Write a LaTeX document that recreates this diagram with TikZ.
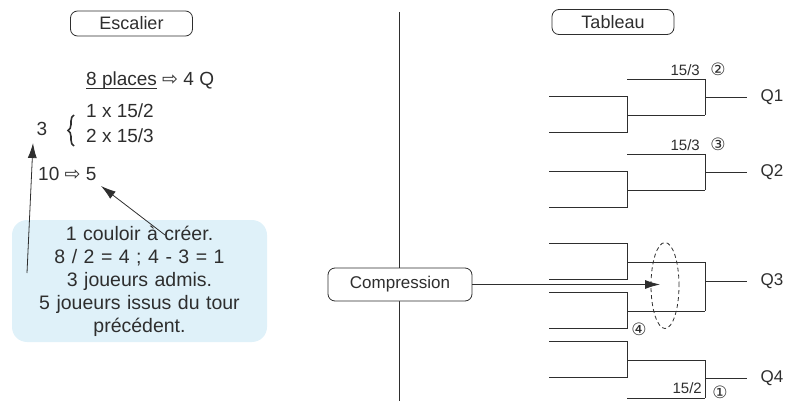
\documentclass[tikz,border=0pt]{standalone}
\usepackage{fontspec}
\setmainfont{Liberation Sans}
\newfontfamily\symbfont{DejaVu Sans}
\usepackage{xcolor}
\usepackage{tikz}
\usetikzlibrary{shapes.geometric, arrows.meta, positioning, decorations.pathreplacing}

\definecolor{notebg}{HTML}{DFF1F9}
\definecolor{ink}{HTML}{2E2E2E}
\newcommand\ulined[1]{\setbox0=\hbox{#1}\rlap{\rule[-2.5pt]{\wd0}{0.7pt}}\box0\relax}

\begin{document}
\begin{tikzpicture}[
    x=1pt, y=-1pt,
    every node/.style={text=ink},
    title/.style={rectangle, draw=ink, line width=0.8pt, rounded corners=7pt, minimum width=122pt, minimum height=25pt, inner sep=0pt, font=\fontsize{18}{21}\selectfont},
    note/.style={rectangle, fill=notebg, rounded corners=15pt, minimum width=255pt, minimum height=122pt, text width=250pt, align=center, inner sep=0pt, font=\fontsize{19.5}{23}\selectfont},
    txt/.style={inner sep=0pt, font=\fontsize{19}{23}\selectfont},
    small/.style={inner sep=0pt, font=\fontsize{15}{17}\selectfont},
    circnum/.style={inner sep=0pt, font=\fontsize{17}{19}\selectfont},
    qlabel/.style={inner sep=0pt, font=\fontsize{17}{19}\selectfont},
    wire/.style={draw=ink, line width=0.8pt},
    arrow/.style={draw=ink, line width=0.8pt, -{Latex[length=15pt, width=9pt]}}
]
    \useasboundingbox (0,0) rectangle (801,401);

    % left half: escalier
    \node (escalier) [title] at (131.5,23.5) {Escalier};
    \node (places) [txt, anchor=base west] at (86,86) {\ulined{8 places} {\symbfont ⇨} 4 Q};
    \node (three) [txt, anchor=base] at (42,136) {3};
    \coordinate (bracebot) at (74,146);
    \coordinate (bracetop) at (74,115);
    \draw [draw=ink, line width=1.6pt, decorate, decoration={brace, amplitude=6pt}] (bracebot) -- (bracetop);
    \node (row1) [txt, anchor=base west] at (86,118) {1 x 15/2};
    \node (row2) [txt, anchor=base west] at (86,143) {2 x 15/3};
    \node (ten) [txt, anchor=base west] at (38,181) {10 {\symbfont ⇨} 5};
    \node (note) [note] at (139.5,281) {1 couloir à créer.\\ 8 / 2 = 4 ; 4 - 3 = 1\\ 3 joueurs admis.\\ 5 joueurs issus du tour\\ précédent.};

    \coordinate (from3) at (27,273);
    \coordinate (to3) at (33,143);
    \coordinate (from5) at (165,235);
    \coordinate (to5) at (101,186);
    \draw [arrow] (from3) -- (to3);
    \draw [arrow] (from5) -- (to5);

    % divider
    \coordinate (divtop) at (399,12);
    \coordinate (divbot) at (399,401);
    \draw [wire] (divtop) -- (divbot);

    % right half: tableau
    \node (tableau) [title] at (613,22) {Tableau};

    \foreach \y in {96,171,243,292,341} {
        \draw [wire] (549,\y) -- (627,\y) -- (627,\y+36) -- (549,\y+36);
        \draw [wire] (627,\y+19) -- (705,\y+19);
    }
    \foreach \y in {79,154,398}
        \draw [wire] (627,\y) -- (705,\y);
    \draw [wire] (705,79) -- (705,115);
    \draw [wire] (705,154) -- (705,190);
    \draw [wire] (705,262) -- (705,311);
    \draw [wire] (705,360) -- (705,398);
    \foreach \y/\q in {97/Q1,172/Q2,281/Q3,378/Q4} {
        \draw [wire] (705,\y) -- (747,\y);
        \node (\q) [qlabel] at (772,\y) {\q};
    }

    \node (s1) [small, anchor=base east] at (700,76) {15/3};
    \node (c2) [circnum] at (718,69) {\symbfont ②};
    \node (s2) [small, anchor=base east] at (700,151) {15/3};
    \node (c3) [circnum] at (718,144) {\symbfont ③};
    \node (c4) [circnum] at (639,329) {\symbfont ④};
    \node (s3) [small, anchor=base east] at (702,393) {15/2};
    \node (c1) [circnum] at (720,392) {\symbfont ①};

    % compression
    \node (compr) [title, fill=white, minimum width=144pt, minimum height=33pt, font=\fontsize{17}{20}\selectfont] at (400,284.5) {Compression};
    \coordinate (target) at (660,284.5);
    \draw [arrow] (compr) -- (target);
    \draw [draw=ink, line width=0.8pt, dash pattern=on 4pt off 3pt] (665,285.5) ellipse [x radius=14pt, y radius=43pt];
\end{tikzpicture}
\end{document}
